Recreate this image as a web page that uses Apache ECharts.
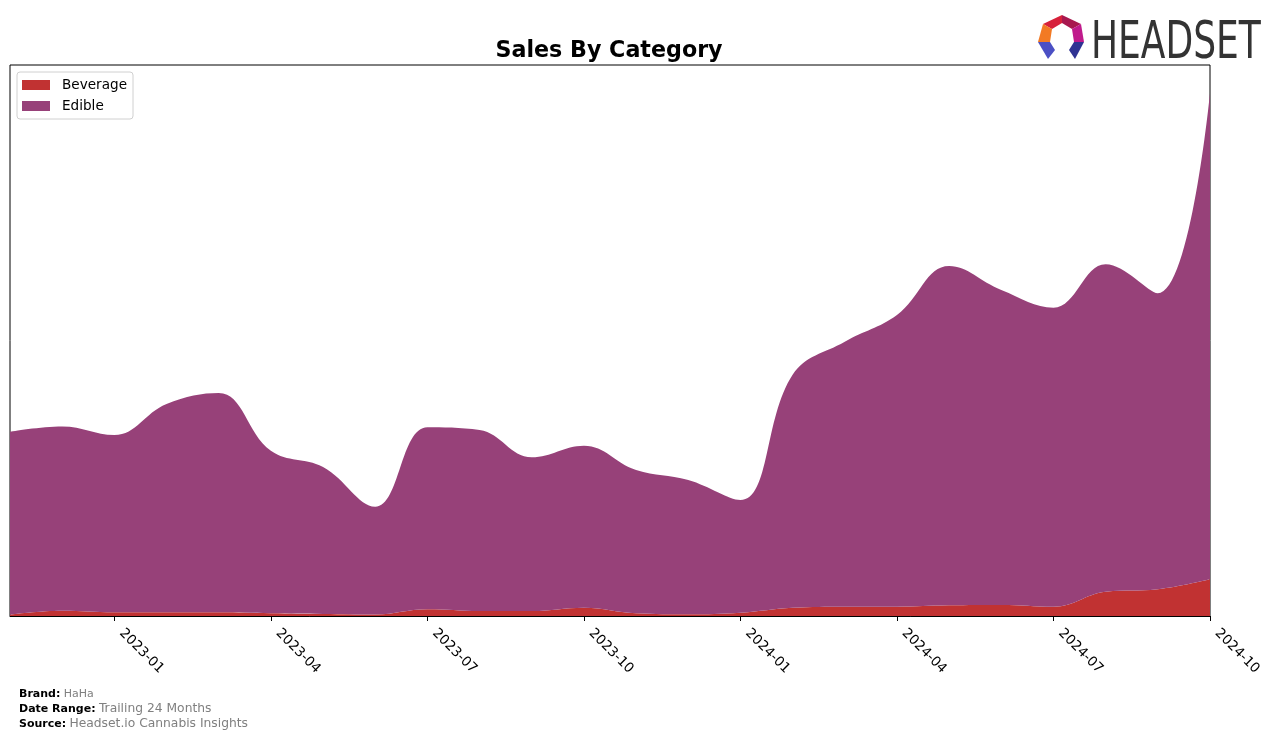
<!DOCTYPE html>
<html>
<head>
<meta charset="utf-8">
<script src="https://cdn.jsdelivr.net/npm/echarts@6/dist/echarts.min.js"></script>
<style>
html,body{margin:0;padding:0;background:#fff;}
#chart{width:1276px;height:740px;}
</style>
</head>
<body>
<div id="chart"></div>
<script>
const months = ['2022-11','2022-12','2023-01','2023-02','2023-03','2023-04','2023-05','2023-06',
  '2023-07','2023-08','2023-09','2023-10','2023-11','2023-12','2024-01','2024-02','2024-03',
  '2024-04','2024-05','2024-06','2024-07','2024-08','2024-09','2024-10'];
const beverage = [1.5,5.3,3.7,3.7,3.7,2.7,2.0,1.5,6.7,5.0,5.0,8.3,2.7,1.7,3.3,8.3,9.3,9.3,10.7,11.0,9.3,24.3,26.7,36.7];
const edible = [182.8,184.2,177.3,208.3,219.3,162.6,147.0,107.8,182.0,181.0,153.7,162.0,143.3,134.3,112.7,233.0,265.0,291.7,339.3,315.0,299.0,327.4,296.0,486.0];
const tickLabels = ['2023-01','2023-04','2023-07','2023-10','2024-01','2024-04','2024-07','2024-10'];
const seriesNames = ['Beverage','Edible'];
const colors = ['#c13232','#974179'];

const chart = echarts.init(document.getElementById('chart'), null, {renderer:'canvas'});
const FONT = 'DejaVu Sans';
const showTick = (i, v) => tickLabels.indexOf(v) >= 0;

chart.setOption({
  animation:false,
  backgroundColor:'#fff',
  title:{text:'Sales By Category', left:604, textAlign:'center', top:35,
    textStyle:{fontFamily:FONT, fontSize:22.2, fontWeight:'bold', color:'#000'}},
  legend:{orient:'vertical', left:17, top:72, padding:[6,6,6,5], itemGap:7,
    itemWidth:28, itemHeight:10, icon:'rect',
    backgroundColor:'rgba(255,255,255,0.8)', borderColor:'#d0d0d0', borderWidth:1, borderRadius:3,
    textStyle:{fontFamily:FONT, fontSize:13.6, color:'#000', padding:[0,0,0,7]},
    data:seriesNames},
  grid:{left:10, right:66, top:65, bottom:124, show:true, borderColor:'#000', borderWidth:1, containLabel:false},
  xAxis:{type:'category', data:months, boundaryGap:false,
    axisLine:{lineStyle:{color:'#000', width:1}},
    axisTick:{interval:showTick, length:5, lineStyle:{color:'#000'}},
    axisLabel:{interval:showTick, rotate:-45, margin:8, padding:[0,0,0,10], fontFamily:FONT, fontSize:13.6, color:'#000'},
    splitLine:{show:false}},
  yAxis:{type:'value', min:0, max:551, show:false, splitLine:{show:false}},
  series:[
    {name:seriesNames[0], type:'line', stack:'total', smooth:0.4, symbol:'none',
      lineStyle:{width:0}, areaStyle:{color:colors[0], opacity:1}, itemStyle:{color:colors[0]}, data:beverage},
    {name:seriesNames[1], type:'line', stack:'total', smooth:0.4, symbol:'none',
      lineStyle:{width:0}, areaStyle:{color:colors[1], opacity:1}, itemStyle:{color:colors[1]}, data:edible}
  ],
  graphic:[
    {type:'polygon', shape:{points:[[1043,24],[1062,15],[1062,23],[1052,29]]}, style:{fill:'#d7213a'}},
    {type:'polygon', shape:{points:[[1062,15],[1081,24],[1072,29],[1062,23]]}, style:{fill:'#a8184f'}},
    {type:'polygon', shape:{points:[[1043,24],[1052,29],[1050,42],[1038,42]]}, style:{fill:'#f27a24'}},
    {type:'polygon', shape:{points:[[1081,24],[1084,42],[1074,42],[1072,29]]}, style:{fill:'#c01a8c'}},
    {type:'polygon', shape:{points:[[1038,42],[1050,42],[1055,50],[1048,59]]}, style:{fill:'#4b4fc4'}},
    {type:'polygon', shape:{points:[[1084,42],[1074,42],[1069,50],[1075,59]]}, style:{fill:'#2f3393'}},
    {type:'text', x:1091, y:19, scaleX:0.785, style:{text:'HEADSET', fontFamily:'Liberation Sans Narrow, DejaVu Sans Condensed, Liberation Sans', fontSize:51, fill:'#333', textVerticalAlign:'top'}},
    {type:'text', x:19, y:688, style:{text:'{b|Brand:} {v|HaHa}', rich:{b:{fontFamily:FONT, fontSize:11, fontWeight:'bold', fill:'#000'}, v:{fontFamily:FONT, fontSize:11, fill:'#808080'}}}},
    {type:'text', x:19, y:703, style:{text:'{b|Date Range:} {v|Trailing 24 Months}', rich:{b:{fontFamily:FONT, fontSize:11, fontWeight:'bold', fill:'#000'}, v:{fontFamily:FONT, fontSize:12.3, fill:'#808080'}}}},
    {type:'text', x:19, y:718, style:{text:'{b|Source:} {v|Headset.io Cannabis Insights}', rich:{b:{fontFamily:FONT, fontSize:11, fontWeight:'bold', fill:'#000'}, v:{fontFamily:FONT, fontSize:12.3, fill:'#808080'}}}}
  ]
});
</script>
</body>
</html>
